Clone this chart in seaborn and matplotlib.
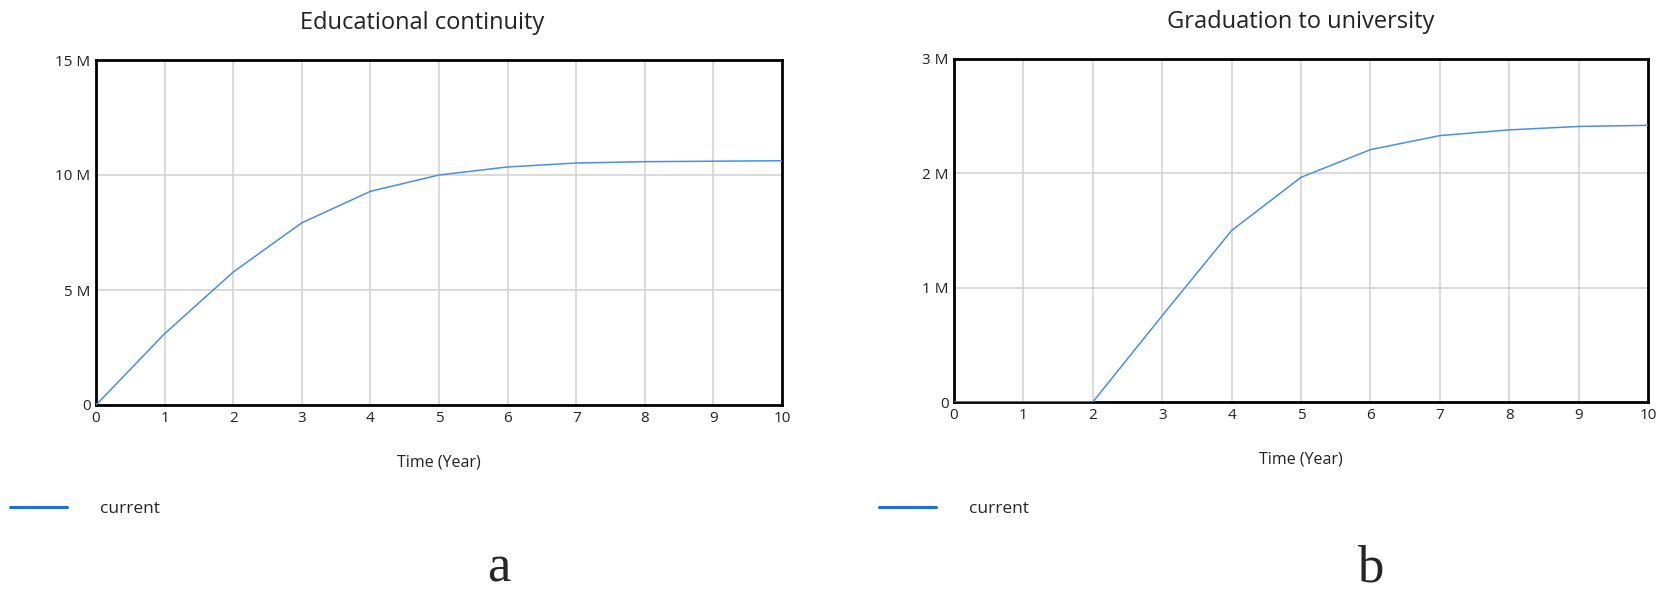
import pandas as pd
import numpy as np
import matplotlib
matplotlib.use("Agg")
import matplotlib.pyplot as plt
from matplotlib.lines import Line2D
from matplotlib.ticker import FuncFormatter
import seaborn as sns

# datos
years = [0, 1, 2, 3, 4, 5, 6, 7, 8, 9, 10]
continuidad = [0, 3.1e6, 5.78e6, 7.92e6, 9.29e6, 10.0e6, 10.35e6, 10.52e6, 10.58e6, 10.6e6, 10.62e6]
graduacion = [0, 0, 0, 0.755e6, 1.5e6, 1.965e6, 2.207e6, 2.33e6, 2.38e6, 2.41e6, 2.42e6]

titulos = ["Educational continuity", "Graduation to university"]
y_maximos = [15e6, 3e6]
y_pasos = [5e6, 1e6]
letras = ["a", "b"]

sns.set_style("white")
plt.rcParams["font.family"] = ["Open Sans", "DejaVu Sans"]

def fmt_millones(v, pos):
    #formato "5 M"
    if v == 0:
        return "0"
    return "%d M" % round(v / 1e6)

fig = plt.figure(figsize=(16.65, 6.01), dpi=100)
W, H = 1665, 601
# posiciones en pixeles de los ejes
cajas = [(96, 60, 782, 405), (954, 59, 1648, 402)]
series = [continuidad, graduacion]
titulo_x = [0.475, 0.5]

for i in range(2):
    x0, y0, x1, y1 = cajas[i]
    ax = fig.add_axes([x0 / W, 1 - y1 / H, (x1 - x0) / W, (y1 - y0) / H])
    df = pd.DataFrame({"Time": years, "valor": series[i]})
    sns.lineplot(data=df, x="Time", y="valor", ax=ax, color="#4a8fe6", linewidth=1.1, zorder=3)
    ax.set_xlim(0, 10)
    ax.set_ylim(0, y_maximos[i])
    ax.set_xticks(years)
    ax.set_yticks(np.arange(0, y_maximos[i] + 1, y_pasos[i]))
    ax.yaxis.set_major_formatter(FuncFormatter(fmt_millones))
    ax.grid(True, color="#d4d4d4", linewidth=1.2)
    ax.set_axisbelow(True)
    for s in ax.spines.values():
        s.set_color("black")
        s.set_linewidth(2)
    ax.tick_params(axis="both", length=0, labelsize=11, colors="#222222", pad=4)
    ax.set_xlabel("Time (Year)", fontsize=11.5, labelpad=21, color="#222222")
    ax.set_ylabel("")
    ax.set_title(titulos[i], fontsize=17, pad=22, color="#222222", x=titulo_x[i])
    # leyenda debajo
    leg_x = -6 if i == 0 else 863
    handle = Line2D([], [], color="#1f6fe5", linewidth=2.2)
    ax.legend([handle], ["current"], loc="center left", frameon=False,
              bbox_to_anchor=(leg_x / W, 1 - 509 / H), bbox_transform=fig.transFigure,
              handlelength=3.3, handletextpad=1.9, fontsize=12.5)
    # letra del panel
    lx = 499 if i == 0 else 1370
    fig.text(lx / W, 1 - 568 / H, letras[i], ha="center", va="center",
             fontsize=38, family="Liberation Serif")

fig.savefig("out.png", dpi=100)
